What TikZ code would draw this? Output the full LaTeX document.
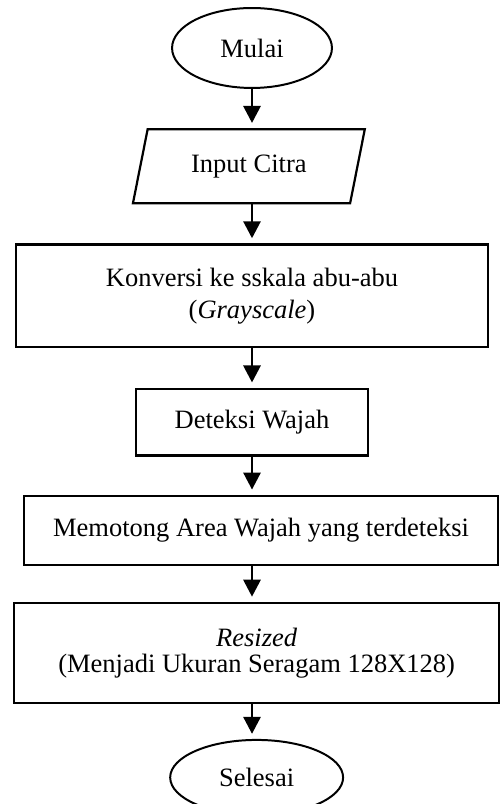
\documentclass[tikz,border=0pt]{standalone}
\usepackage{fontspec}
\setmainfont{Liberation Serif}
\usetikzlibrary{shapes.geometric,arrows.meta,positioning}

\begin{document}
\begin{tikzpicture}[
    x=0.4528pt, y=0.4528pt,
    node distance=17.7pt,
    every node/.style={font=\fontsize{12}{14.5}\selectfont},
    terminal/.style={draw, ellipse, line width=0.9pt, minimum width=72.4pt, minimum height=36.2pt, inner sep=0pt},
    io/.style={draw, trapezium, trapezium left angle=76, trapezium right angle=104, trapezium stretches=true, line width=1pt, minimum width=105pt, minimum height=33.5pt},
    process/.style={draw, rectangle, line width=1pt, align=center, inner sep=0pt},
    arrow/.style={-{Triangle[width=7.7pt, length=7.7pt]}, line width=1.3pt, shorten >=2.3pt},
]
    \useasboundingbox (0,0) rectangle (500,-804);

    % Start and input
    \node[terminal] (mulai) at (252,-48) {Mulai};
    \node[io, below=of mulai, xshift=-1.4pt] (input) {Input Citra};

    % Processing steps
    \node[process, below=of input, xshift=1.4pt, minimum width=213.7pt, minimum height=46.6pt] (gray) {Konversi ke sskala abu-abu\\(\textit{Grayscale})};
    \node[process, below=of gray, minimum width=105pt, minimum height=30.3pt] (deteksi) {Deteksi Wajah};
    \node[process, below=17.2pt of deteksi, xshift=4.1pt, minimum width=214.6pt, minimum height=31.2pt] (potong) {Memotong Area Wajah yang terdeteksi};
    \node[process, below=16.3pt of potong, xshift=-2pt, minimum width=219.6pt, minimum height=45.3pt, font=\fontsize{12}{11.6}\selectfont] (resize) {\textit{Resized}\\(Menjadi Ukuran Seragam 128X128)};

    % End
    \node[terminal, below=15.8pt of resize, minimum width=78.3pt, minimum height=34pt] (selesai) {Selesai};

    % Arrows
    \draw[arrow] (mulai.south) -- (mulai.south |- input.north);
    \draw[arrow] (mulai.south |- input.south) -- (mulai.south |- gray.north);
    \draw[arrow] (gray.south) -- (deteksi.north);
    \draw[arrow] (deteksi.south) -- (deteksi.south |- potong.north);
    \draw[arrow] (deteksi.south |- potong.south) -- (deteksi.south |- resize.north);
    \draw[arrow] (deteksi.south |- resize.south) -- (deteksi.south |- selesai.north);

\end{tikzpicture}
\end{document}
